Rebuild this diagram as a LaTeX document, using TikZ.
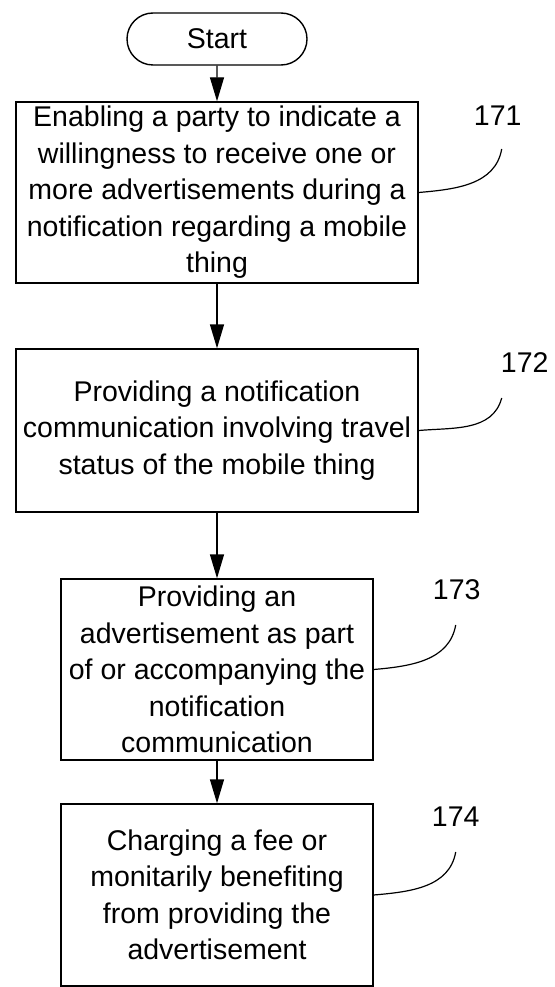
\documentclass[tikz,border=0pt]{standalone}
\usepackage{fontspec}
\setmainfont{Liberation Sans}
\usepackage{tikz}
\usetikzlibrary{shapes.misc}
\usetikzlibrary{arrows.meta,positioning}
\newcommand{\FlowFont}{\fontsize{28.5pt}{36.5pt}\selectfont}
\tikzstyle{TerminalNode} =[draw,rounded rectangle,minimum width=180pt,minimum height=52pt,inner sep=0pt,font=\FlowFont]
\tikzstyle{ProcessStepNode} =[draw,rectangle,align=center,inner sep=0pt,font=\FlowFont]
\tikzstyle{WideStep} =[ProcessStepNode,minimum width=402pt]
\tikzstyle{NarrowStep} =[ProcessStepNode,minimum width=312pt]
\tikzstyle{RefLabel} =[inner sep=0pt,font=\FlowFont]
\tikzstyle{LeaderLine} =[-,line width=1.2pt]

\begin{document}
\begin{tikzpicture}[->,>={Triangle[length=24pt,width=14pt]},on grid,line width=1.4pt,x=1pt,y=1pt]
    \useasboundingbox (0,0) rectangle (554,-987);
    \node[TerminalNode](Start-Terminal) at (217,-39){Start};

    \node[WideStep,minimum height=181pt,below=153.5pt of Start-Terminal](Enabling-Party){Enabling a party to indicate a\\ willingness to receive one or\\ more advertisements during a\\ notification regarding a mobile\\ thing};
    \node[WideStep,minimum height=163pt,below=238pt of Enabling-Party](Notification-Communication){Providing a notification\\ communication involving travel\\ status of the mobile thing};
    \node[NarrowStep,minimum height=181pt,below=239pt of Notification-Communication](Advertisement-Part){Providing an\\ advertisement as part\\ of or accompanying the\\ notification\\ communication};
    \node[NarrowStep,minimum height=182pt,below=225.5pt of Advertisement-Part](Charging-Fee){Charging a fee or\\ monitarily benefiting\\ from providing the\\ advertisement};

    % reference numbers
    \coordinate[above right=43.5pt and 83pt of Enabling-Party.east](Tip-171);
    \coordinate[above right=32.5pt and 83pt of Notification-Communication.east](Tip-172);
    \coordinate[above right=44.5pt and 82pt of Advertisement-Part.east](Tip-173);
    \coordinate[above right=43pt and 82pt of Charging-Fee.east](Tip-174);
    \node[RefLabel,above=23pt of Tip-171,xshift=-4pt](Ref-171){171};
    \node[RefLabel,above=25pt of Tip-172,xshift=23pt](Ref-172){172};
    \node[RefLabel,above=25pt of Tip-173,xshift=1pt](Ref-173){173};
    \node[RefLabel,above=25pt of Tip-174](Ref-174){174};

    \draw[LeaderLine] (Enabling-Party.east) to[out=5,in=-100] (Tip-171);
    \draw[LeaderLine] (Notification-Communication.east) to[out=5,in=-105] (Tip-172);
    \draw[LeaderLine] (Advertisement-Part.east) to[out=5,in=-100] (Tip-173);
    \draw[LeaderLine] (Charging-Fee.east) to[out=5,in=-100] (Tip-174);

    \path[->] (Start-Terminal) edge (Enabling-Party);
    \path[->] (Enabling-Party) edge (Notification-Communication);
    \path[->] (Notification-Communication) edge (Advertisement-Part);
    \path[->] (Advertisement-Part) edge (Charging-Fee);
\end{tikzpicture}
\end{document}
